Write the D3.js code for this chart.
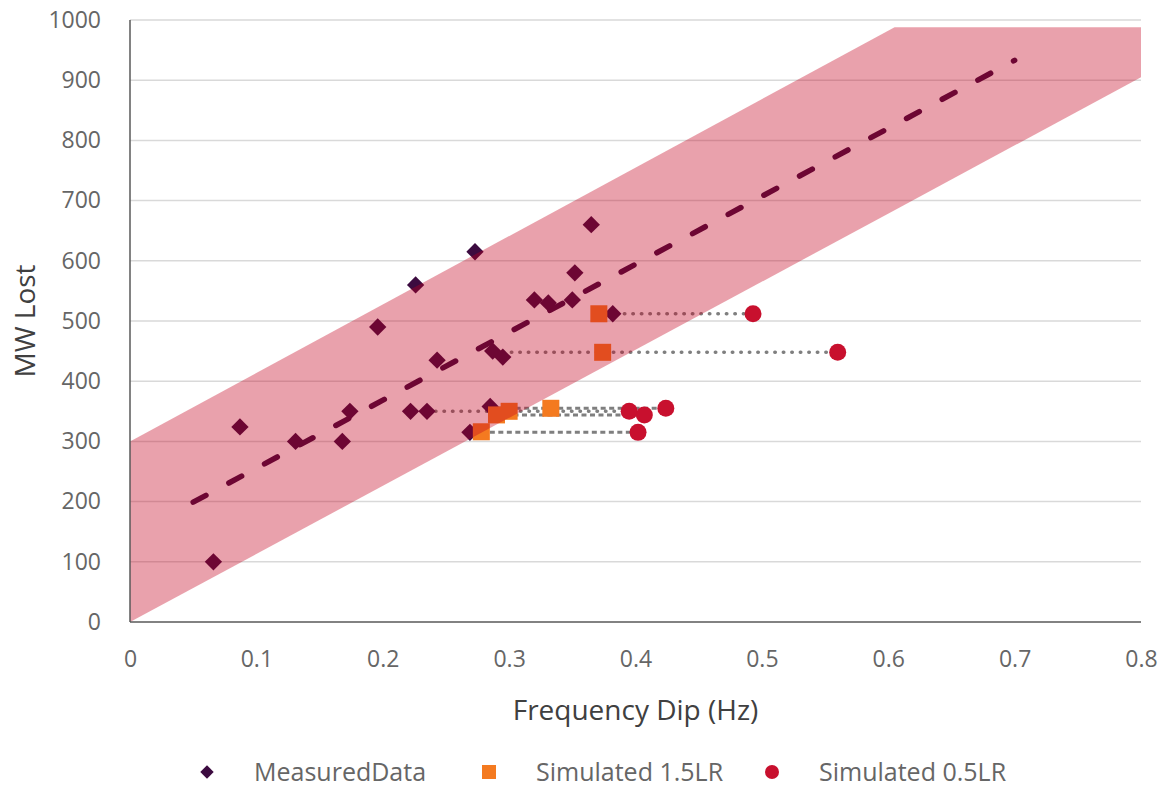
<!DOCTYPE html>
<html>
<head>
<meta charset="utf-8">
<script src="https://cdn.jsdelivr.net/npm/d3@7/dist/d3.min.js"></script>
<style>
  html, body { margin: 0; padding: 0; background: #fff; }
  svg { display: block; font-family: "Open Sans", "Noto Sans", sans-serif; }
</style>
</head>
<body>
<svg id="chart" width="1163" height="787"></svg>
<script>
// Measured events: frequency dip (Hz) vs MW lost
const measuredX = [0.066, 0.087, 0.131, 0.168, 0.174, 0.196, 0.222, 0.226, 0.235, 0.243,
                   0.273, 0.269, 0.287, 0.295, 0.285, 0.320, 0.331, 0.350, 0.352, 0.365, 0.382];
const measuredY = [100, 324, 300, 300, 350, 490, 350, 560, 350, 435,
                   615, 315, 450, 440, 358, 535, 530, 535, 580, 660, 512];

// Simulated responses at 1.5 x load relief
const sim15X = [0.371, 0.374, 0.290, 0.300, 0.333, 0.278];
const sim15Y = [512, 448, 344, 350, 355, 316];

// Simulated responses at 0.5 x load relief
const sim05X = [0.493, 0.560, 0.395, 0.407, 0.424, 0.402];
const sim05Y = [512, 448, 350, 344, 355, 315];

// Horizontal connectors linking each event to its simulated outcome
const linkY    = [512, 448, 350, 344, 355, 315];
const linkFrom = [0.371, 0.295, 0.235, 0.290, 0.285, 0.278];
const linkTo   = [0.493, 0.560, 0.395, 0.407, 0.424, 0.402];
const linkKind = ["dot", "dot", "dot", "dash", "dash", "dash"];

// Linear trend of measured data
const trendX = [0.05, 0.70];
const trendY = [199, 933];

// Tolerance band around the trend
const bandX    = [0, 0.605, 0.8];
const bandLow  = [0, 684, 905];
const bandHigh = [300, 988, 988];

// Axis ticks
const xTicks = [0, 0.1, 0.2, 0.3, 0.4, 0.5, 0.6, 0.7, 0.8];
const xTickLabels = ["0", "0.1", "0.2", "0.3", "0.4", "0.5", "0.6", "0.7", "0.8"];
const yTicks = [0, 100, 200, 300, 400, 500, 600, 700, 800, 900, 1000];

const legendLabels = ["MeasuredData", "Simulated 1.5LR", "Simulated 0.5LR"];

const C = {
  measured: "#3c0b40",
  sim15: "#f47a20",
  sim05: "#c8102e",
  band: "rgb(195,0,30)",
  grid: "#d9d9d9",
  axis: "#595959",
  tick: "#666666",
  title: "#404040",
  link: "#7f7f7f"
};

const svg = d3.select("#chart");
const x = d3.scaleLinear().domain([0, 0.8]).range([130, 1141]);
const y = d3.scaleLinear().domain([0, 1000]).range([622, 20]);

// Gridlines
svg.append("g").selectAll("line").data(yTicks.filter(d => d > 0)).join("line")
  .attr("x1", x(0)).attr("x2", x(0.8))
  .attr("y1", d => y(d)).attr("y2", d => y(d))
  .attr("stroke", C.grid).attr("stroke-width", 1.5);

// Connectors
const links = linkY.map((v, i) => ({ y: v, x0: linkFrom[i], x1: linkTo[i], kind: linkKind[i] }));
svg.append("g").selectAll("line").data(links).join("line")
  .attr("x1", d => x(d.x0)).attr("x2", d => x(d.x1))
  .attr("y1", d => y(d.y)).attr("y2", d => y(d.y))
  .attr("stroke", C.link)
  .attr("stroke-width", d => d.kind === "dot" ? 3.5 : 3)
  .attr("stroke-linecap", d => d.kind === "dot" ? "round" : "butt")
  .attr("stroke-dasharray", d => d.kind === "dot" ? "0.5,8" : "5,3.5");

// Trend line
svg.append("path")
  .datum(trendX.map((v, i) => [v, trendY[i]]))
  .attr("d", d3.line().x(d => x(d[0])).y(d => y(d[1])))
  .attr("fill", "none").attr("stroke", C.measured)
  .attr("stroke-width", 5.5).attr("stroke-linecap", "round")
  .attr("stroke-dasharray", "14.5,26");

// Markers
const diamond = d3.symbol().type(d3.symbolSquare).size(150);
svg.append("g").selectAll("path").data(measuredX.map((v, i) => [v, measuredY[i]])).join("path")
  .attr("d", diamond)
  .attr("transform", d => `translate(${x(d[0])},${y(d[1])}) rotate(45)`)
  .attr("fill", C.measured);

svg.append("g").selectAll("rect").data(sim15X.map((v, i) => [v, sim15Y[i]])).join("rect")
  .attr("x", d => x(d[0]) - 8.5).attr("y", d => y(d[1]) - 8.5)
  .attr("width", 17).attr("height", 17)
  .attr("fill", C.sim15);

svg.append("g").selectAll("circle").data(sim05X.map((v, i) => [v, sim05Y[i]])).join("circle")
  .attr("cx", d => x(d[0])).attr("cy", d => y(d[1])).attr("r", 8.5)
  .attr("fill", C.sim05);

// Tolerance band (translucent, over the data)
svg.append("path")
  .datum(bandX.map((v, i) => [v, bandLow[i], bandHigh[i]]))
  .attr("d", d3.area().x(d => x(d[0])).y0(d => y(d[1])).y1(d => y(d[2])))
  .attr("fill", C.band).attr("fill-opacity", 0.37);

// Axes
svg.append("line").attr("x1", x(0)).attr("x2", x(0)).attr("y1", y(1000)).attr("y2", y(0))
  .attr("stroke", C.axis).attr("stroke-width", 1.5);
svg.append("line").attr("x1", x(0)).attr("x2", x(0.8)).attr("y1", y(0)).attr("y2", y(0))
  .attr("stroke", C.axis).attr("stroke-width", 1.5);

const yAxis = svg.append("g").attr("transform", `translate(${x(0)},0)`)
  .call(d3.axisLeft(y).tickValues(yTicks).tickSize(0).tickPadding(29).tickFormat(d3.format("d")));
yAxis.select(".domain").remove();
yAxis.selectAll("text").attr("fill", C.tick).style("font-size", "23px")
  .style("font-family", "'Open Sans', sans-serif");

const xAxis = svg.append("g").attr("transform", `translate(0,${y(0)})`)
  .call(d3.axisBottom(x).tickValues(xTicks).tickSize(0).tickPadding(29)
    .tickFormat((d, i) => xTickLabels[i]));
xAxis.select(".domain").remove();
xAxis.selectAll("text").attr("fill", C.tick).style("font-size", "23px")
  .style("font-family", "'Open Sans', sans-serif");

// Axis titles
svg.append("text").attr("x", (x(0) + x(0.8)) / 2).attr("y", 720)
  .attr("text-anchor", "middle").attr("fill", C.title).style("font-size", "28px")
  .text("Frequency Dip (Hz)");
svg.append("text").attr("transform", `translate(35,${(y(0) + y(1000)) / 2}) rotate(-90)`)
  .attr("text-anchor", "middle").attr("fill", C.title).style("font-size", "28px")
  .text("MW Lost");

// Legend
const lg = svg.append("g").attr("transform", "translate(0,772)");
const legendX = [207, 489, 772];
lg.append("path").attr("d", d3.symbol().type(d3.symbolSquare).size(90))
  .attr("transform", `translate(${legendX[0]},0) rotate(45)`).attr("fill", C.measured);
lg.append("rect").attr("x", legendX[1] - 7).attr("y", -7).attr("width", 14).attr("height", 14)
  .attr("fill", C.sim15);
lg.append("circle").attr("cx", legendX[2]).attr("cy", 0).attr("r", 7).attr("fill", C.sim05);
lg.selectAll("text").data(legendLabels).join("text")
  .attr("x", (d, i) => legendX[i] + 47).attr("y", 0).attr("dy", "0.35em")
  .attr("fill", C.tick).style("font-size", "25px")
  .text(d => d);
</script>
</body>
</html>
